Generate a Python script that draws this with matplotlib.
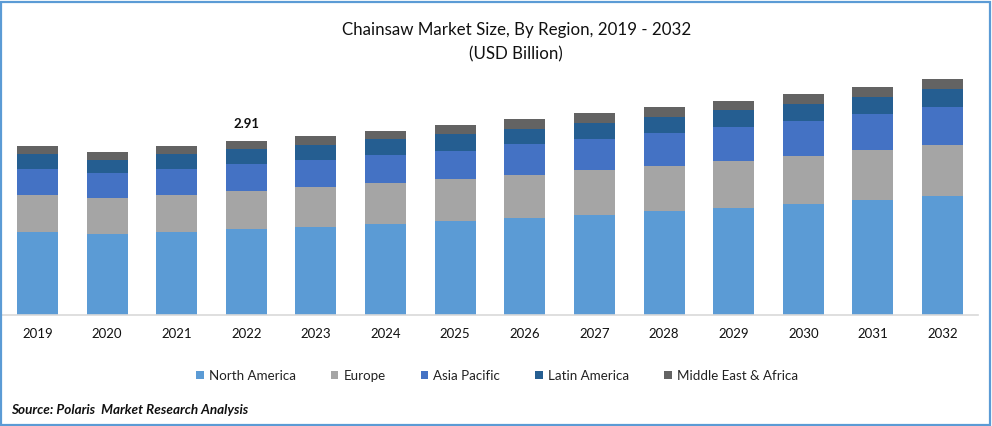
import matplotlib
matplotlib.use('Agg')
import matplotlib.pyplot as plt
from matplotlib.patches import Rectangle
import numpy as np

plt.rcParams['font.family'] = ['Lato', 'DejaVu Sans']

years = ['2019', '2020', '2021', '2022', '2023', '2024', '2025',
         '2026', '2027', '2028', '2029', '2030', '2031', '2032']
north_america = [1.39, 1.35, 1.39, 1.44, 1.47, 1.52, 1.57, 1.62, 1.67, 1.74, 1.79, 1.86, 1.92, 1.99]
europe = [0.62, 0.60, 0.62, 0.64, 0.67, 0.69, 0.70, 0.72, 0.75, 0.75, 0.79, 0.80, 0.84, 0.85]
asia_pacific = [0.43, 0.42, 0.43, 0.45, 0.45, 0.47, 0.48, 0.52, 0.52, 0.55, 0.57, 0.59, 0.60, 0.64]
latin_america = [0.25, 0.23, 0.25, 0.25, 0.25, 0.27, 0.27, 0.25, 0.27, 0.27, 0.28, 0.28, 0.28, 0.30]
middle_east = [0.13, 0.13, 0.13, 0.13, 0.15, 0.13, 0.15, 0.17, 0.17, 0.17, 0.15, 0.17, 0.18, 0.17]

W, H = 992, 426
fig = plt.figure(figsize=(W / 100, H / 100), dpi=100)

# axes placed in pixels: baseline at y=315, x from 2 to 978
ax = fig.add_axes([2 / W, (H - 315) / H, 976 / W, 255 / H])

series = [('North America', north_america, '#5B9BD5'),
          ('Europe', europe, '#A5A5A5'),
          ('Asia Pacific', asia_pacific, '#4472C4'),
          ('Latin America', latin_america, '#255E91'),
          ('Middle East & Africa', middle_east, '#636363')]

x = np.arange(len(years))
bottom = np.zeros(len(years))
for name, vals, col in series:
    ax.bar(x, vals, 0.589, bottom=bottom, color=col, label=name)
    bottom += np.array(vals)

ax.text(3, bottom[3] + 0.18, '2.91', ha='center', va='bottom', fontsize=9.5,
        fontweight='bold', color='#111111')

ax.set_xlim(-0.51, 13.51)
ax.set_ylim(0, 255 / 59.8)
ax.set_xticks(x)
ax.set_xticklabels(years, fontsize=9.5, color='#111111')
ax.tick_params(axis='x', length=0, pad=9.5)
ax.set_yticks([])
for s in ['top', 'left', 'right']:
    ax.spines[s].set_visible(False)
ax.spines['bottom'].set_color('#D9D9D9')
ax.spines['bottom'].set_linewidth(1.2)

fig.text(517 / W, 1 - 30 / H, 'Chainsaw Market Size, By Region, 2019 - 2032',
         ha='center', va='center', fontsize=12.15, color='#111111')
fig.text(516 / W, 1 - 54 / H, '(USD Billion)', ha='center', va='center',
         fontsize=12.15, color='#111111')

fig.legend(loc='center', bbox_to_anchor=(497 / W, 1 - 376 / H), ncol=5, frameon=False,
           fontsize=9.6, handlelength=0.58, handleheight=0.58, handletextpad=0.375,
           columnspacing=2.63, labelcolor='#222222')

fig.text(11 / W, 1 - 410 / H, 'Source: Polaris  Market Research Analysis', ha='left',
         va='center', fontsize=9.75, fontweight='bold', fontstyle='italic', color='#111111')

# blue frame around the image
fig.add_artist(Rectangle((1 / W, 1.5 / H), (W - 3) / W, (H - 3) / H, fill=False,
                         edgecolor='#5B9BD5', linewidth=1.6, transform=fig.transFigure))

fig.savefig('out.png', dpi=100)
